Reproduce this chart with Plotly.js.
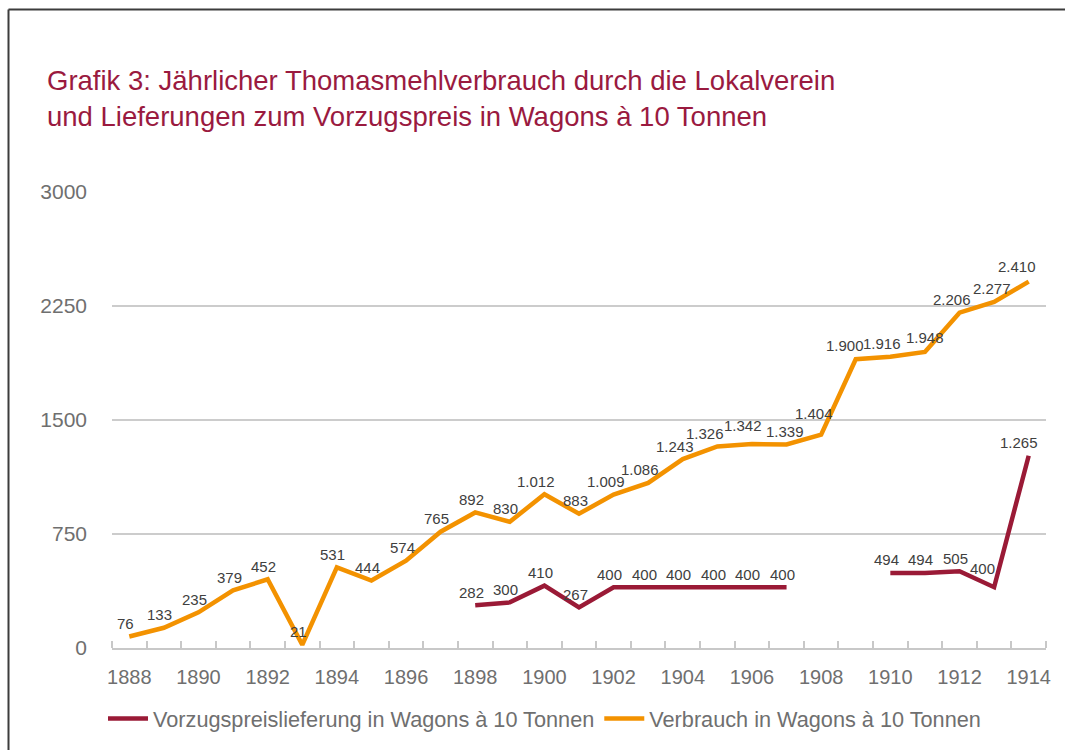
<!DOCTYPE html>
<html>
<head>
<meta charset="utf-8">
<script src="https://cdn.plot.ly/plotly-3.0.1.min.js"></script>
<style>
html,body{margin:0;padding:0;background:#fff;}
#chart{width:1065px;height:750px;}
</style>
</head>
<body>
<div id="chart"></div>
<script>
const years = [1888,1889,1890,1891,1892,1893,1894,1895,1896,1897,1898,1899,1900,1901,1902,1903,1904,1905,1906,1907,1908,1909,1910,1911,1912,1913,1914];
const verbrauch = [76,133,235,379,452,21,531,444,574,765,892,830,1012,883,1009,1086,1243,1326,1342,1339,1404,1900,1916,1948,2206,2277,2410];
const vorzugspreis = [null,null,null,null,null,null,null,null,null,null,282,300,410,267,400,400,400,400,400,400,null,null,494,494,505,400,1265];
const xTickYears = [1888,1890,1892,1894,1896,1898,1900,1902,1904,1906,1908,1910,1912,1914];
const yTicks = [0,750,1500,2250,3000];
const seriesNames = ['Vorzugspreislieferung in Wagons à 10 Tonnen','Verbrauch in Wagons à 10 Tonnen'];
const titleText = 'Grafik 3: Jährlicher Thomasmehlverbrauch durch die Lokalverein<br>und Lieferungen zum Vorzugspreis in Wagons à 10 Tonnen';

const MAROON = '#9a1a36';
const ORANGE = '#f39200';
const FONT = 'Liberation Sans, Arial, sans-serif';

// pixel nudges for crowded value labels (style only): [xshift, extra yshift]
const nudgeVerbrauch = {1905: [-12, 0], 1906: [-9, 6], 1907: [-2, 0], 1908: [-7, 8], 1909: [-11, 1], 1911: [0, 1], 1913: [-2, 0], 1914: [-12, 2]};
const nudgeVorzug = {1913: [-12, 6], 1914: [-10, 0]};

const fmt = v => v >= 1000 ? String(v).replace(/(\d)(?=(\d{3})+$)/, '$1.') : String(v);

const traces = [
  {
    x: years, y: vorzugspreis, name: seriesNames[0], type: 'scatter', mode: 'lines',
    line: {color: MAROON, width: 4.5}, connectgaps: false, hoverinfo: 'skip'
  },
  {
    x: years, y: verbrauch, name: seriesNames[1], type: 'scatter', mode: 'lines',
    line: {color: ORANGE, width: 4.5}, hoverinfo: 'skip'
  }
];

const annotations = [];
function addLabels(vals, nudge) {
  years.forEach((yr, i) => {
    const v = vals[i];
    if (v === null) return;
    const dflt = v >= 1000 ? -8 : -4;
    const n = nudge[yr] || [dflt, 0];
    annotations.push({
      x: yr, y: v, xref: 'x', yref: 'y', text: fmt(v), showarrow: false,
      xanchor: 'center', yanchor: 'middle', xshift: n[0], yshift: 13 + n[1],
      font: {family: FONT, size: 15, color: '#404040'}
    });
  });
}
addLabels(vorzugspreis, nudgeVorzug);
addLabels(verbrauch, nudgeVerbrauch);

const L = 112, R = 1046, T = 192, B = 648;
const W = R - L, H = B - T;
const px = v => (v - L) / W;
const py = v => (B - v) / H;

const layout = {
  width: 1065, height: 750,
  paper_bgcolor: '#ffffff', plot_bgcolor: '#ffffff',
  margin: {l: L, r: 1065 - R, t: T, b: 750 - B, pad: 0, autoexpand: false},
  font: {family: FONT, color: '#6f6f6f'},
  title: {
    text: titleText, xref: 'container', yref: 'container',
    x: 47/1065, xanchor: 'left', y: 1 - 90/750, yanchor: 'top',
    font: {family: FONT, size: 27.5, color: '#9a1a3f'}
  },
  xaxis: {
    type: 'linear', range: [1887.5, 1914.5], automargin: false,
    tickmode: 'array', tickvals: xTickYears, ticktext: xTickYears.map(String),
    ticks: '', showgrid: false, zeroline: false,
    showline: true, linecolor: '#c8c8c8', linewidth: 2,
    ticklabelstandoff: 10,
    tickfont: {family: FONT, size: 20, color: '#6f6f6f'},
    minor: {tickmode: 'linear', tick0: 1887.5, dtick: 1, ticks: 'inside', ticklen: 7, tickwidth: 2, tickcolor: '#c8c8c8', showgrid: false}
  },
  yaxis: {
    range: [0, 3000], automargin: false, tickmode: 'array', tickvals: yTicks, tickformat: 'd',
    showgrid: true, gridcolor: '#cccccc', gridwidth: 2,
    zeroline: false, showline: false, ticks: '',
    ticklabelstandoff: 24,
    tickfont: {family: FONT, size: 21, color: '#6f6f6f'}
  },
  showlegend: true,
  legend: {
    orientation: 'h', x: px(103), xanchor: 'left', y: py(719), yanchor: 'middle',
    font: {family: FONT, size: 21.7, color: '#6f6f6f'},
    itemwidth: 40, traceorder: 'normal'
  },
  annotations: annotations,
  shapes: [
    {type: 'line', xref: 'paper', yref: 'paper', x0: px(8.5), x1: px(1070), y0: py(9.5), y1: py(9.5), line: {color: '#3c3c3c', width: 2}},
    {type: 'line', xref: 'paper', yref: 'paper', x0: px(8.5), x1: px(8.5), y0: py(9.5), y1: py(760), line: {color: '#3c3c3c', width: 2}}
  ]
};

Plotly.newPlot('chart', traces, layout, {displayModeBar: false, staticPlot: true});
</script>
</body>
</html>
